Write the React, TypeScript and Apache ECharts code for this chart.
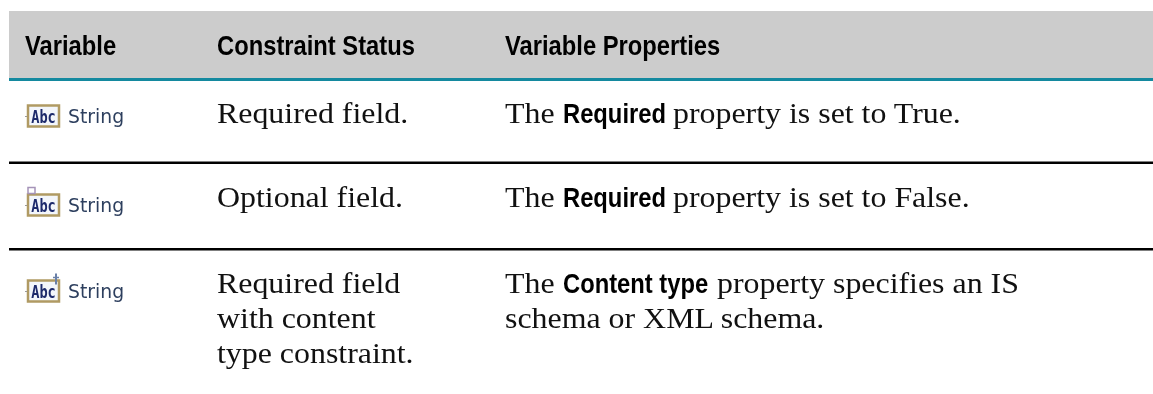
import React, { useEffect, useRef } from "react";
import * as echarts from "echarts";

const headers = ["Variable", "Constraint Status", "Variable Properties"];
const variableLabels = ["String", "String", "String"];
const statusLines = [["Required field."], ["Optional field."], ["Required field", "with content", "type constraint."]];
const propertyLead = ["The", "The", "The"];
const propertyBold = ["Required", "Required", "Content type"];
const propertyTail = ["property is set to True.", "property is set to False.", "property specifies an IS"];
const propertyExtra = "schema or XML schema.";
const iconMarks = ["none", "optional", "content"];

const SERIF = "'Liberation Serif', serif";
const SANS = "'Liberation Sans', sans-serif";
const SERIF_FONT = `29px ${SERIF}`;
const BOLD_FONT = `bold 27px ${SANS}`;
const BOLD_SCALE = 0.88;
const SERIF_SCALE = 1.1;
const baselines = [123, 207, 293];
const lineStep = 35;
const iconCy = [115.5, 204.5, 290.5];
const headX = [25, 217, 505];
const boldX = 563;
const tailX = [673, 673, 717];

function icon(x: number, cy: number, mark: string) {
  const top = cy - 11;
  const els: any[] = [
    { type: "rect", shape: { x: x + 1, y: top + 1, width: 31, height: 21 }, style: { fill: "#f3f6fb", stroke: "#b09a63", lineWidth: 2.5 } },
    { type: "line", shape: { x1: x - 2, y1: cy + 1, x2: x, y2: cy + 1 }, style: { stroke: "#999", lineWidth: 1 } },
    { type: "text", x: x + 16.5, y: cy + 1, scaleX: 0.76, style: { text: "Abc", fill: "#1d2a6b", font: "bold 18px 'DejaVu Sans Mono', monospace", align: "center", verticalAlign: "middle" } },
  ];
  if (mark === "optional") els.push({ type: "rect", shape: { x: x + 1, y: top - 6, width: 7, height: 6 }, style: { fill: "#fff", stroke: "#a593b8", lineWidth: 1.5 } });
  if (mark === "content") {
    els.push({ type: "line", shape: { x1: x + 29, y1: top - 6, x2: x + 29, y2: top + 5 }, style: { stroke: "#6a80a8", lineWidth: 2 } });
    els.push({ type: "line", shape: { x1: x + 26, y1: top - 2, x2: x + 32, y2: top - 2 }, style: { stroke: "#6a80a8", lineWidth: 1.5 } });
  }
  return els;
}

const serifText = (x: number, baseline: number, text: string) => ({
  type: "text", x, y: baseline - 10, scaleX: SERIF_SCALE,
  style: { text, fill: "#111", font: SERIF_FONT, verticalAlign: "middle" },
});
const boldText = (x: number, baseline: number, text: string, fill = "#000") => ({
  type: "text", x, y: baseline - 9.5, scaleX: BOLD_SCALE,
  style: { text, fill, font: BOLD_FONT, verticalAlign: "middle" },
});

export default function App() {
  const ref = useRef<HTMLDivElement>(null);
  useEffect(() => {
    const chart = echarts.init(ref.current!, undefined, { renderer: "svg" });
    const g: any[] = [
      { type: "rect", shape: { x: 9, y: 11, width: 1144, height: 67 }, style: { fill: "#cccccc" } },
      { type: "rect", shape: { x: 9, y: 78, width: 1144, height: 3 }, style: { fill: "#14899f" } },
      { type: "rect", shape: { x: 9, y: 161.5, width: 1144, height: 2.5 }, style: { fill: "#000" } },
      { type: "rect", shape: { x: 9, y: 248, width: 1144, height: 2.5 }, style: { fill: "#000" } },
    ];
    headers.forEach((h, i) => g.push(boldText(headX[i], 54.5, h)));
    baselines.forEach((b, i) => {
      g.push(...icon(27, iconCy[i], iconMarks[i]));
      g.push({ type: "text", x: 68, y: iconCy[i] + 1, scaleX: 0.94, style: { text: variableLabels[i], fill: "#2d3f5e", font: `20px 'DejaVu Sans', sans-serif`, verticalAlign: "middle" } });
      statusLines[i].forEach((l, j) => g.push(serifText(headX[1], b + j * lineStep, l)));
      g.push(serifText(headX[2], b, propertyLead[i]));
      g.push(boldText(boldX, b, propertyBold[i]));
      g.push(serifText(tailX[i], b, propertyTail[i]));
    });
    g.push(serifText(headX[2], baselines[2] + lineStep, propertyExtra));
    chart.setOption({ animation: false, graphic: { elements: g } });
    return () => chart.dispose();
  }, []);
  return <div ref={ref} style={{ position: "fixed", left: 0, top: 0, width: 1153, height: 394 }} />;
}
